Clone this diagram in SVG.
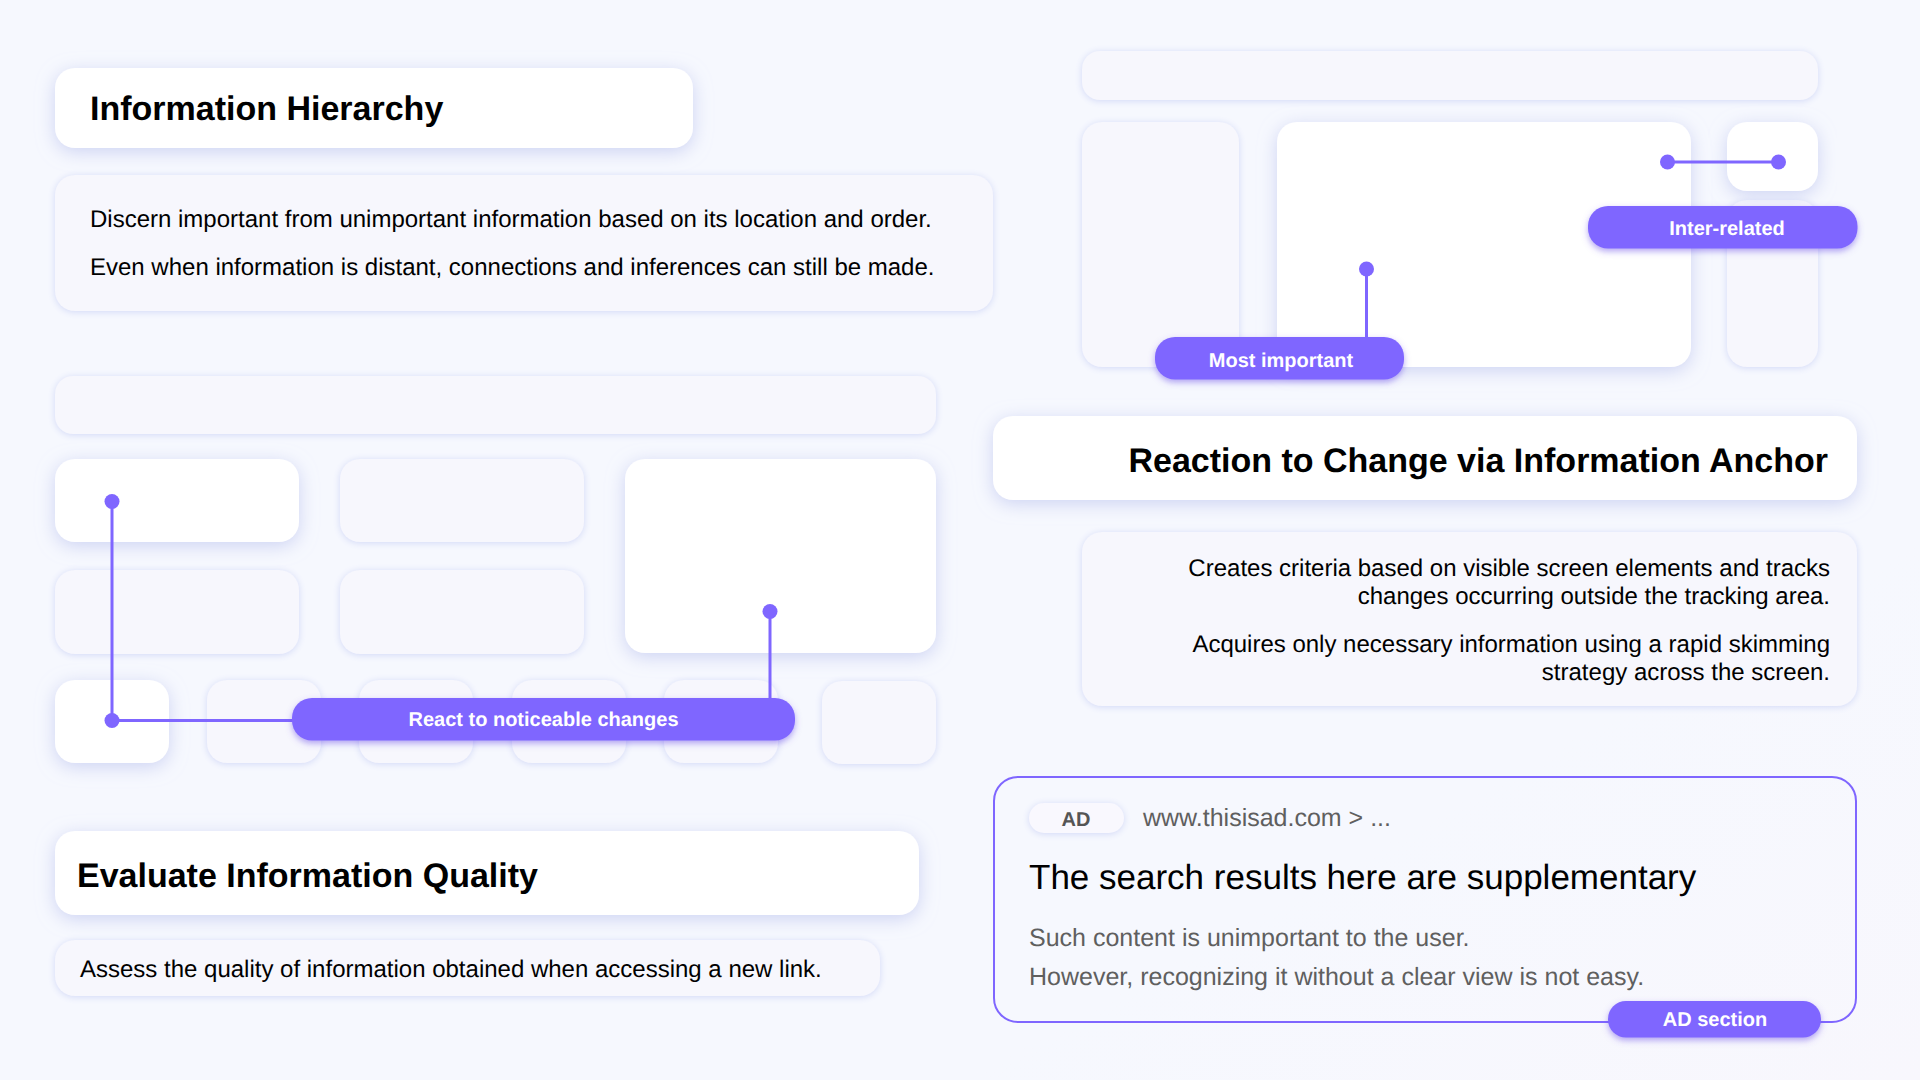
<svg xmlns="http://www.w3.org/2000/svg" width="1920" height="1080" viewBox="0 0 1920 1080">
<style>
text{font-family:"Liberation Sans",Arial,sans-serif;text-rendering:geometricPrecision}
.w{fill:#fff;filter:url(#sw)}
.p{fill:#F7F7FD;filter:url(#sp)}
.t{font-weight:700;font-size:34px;fill:#000}
.b{font-size:24px;fill:#000}
.g{font-size:25px;fill:#5f5f5f}
.l{font-weight:700;font-size:20px;fill:#fff;text-anchor:middle}
.e{text-anchor:end}
.pill{fill:#7F66FF;filter:url(#spill)}
.c{fill:none;stroke:#7F66FF;stroke-width:3}
.d{fill:#7F66FF}
</style>
<defs>
<linearGradient id="bg" x1="0" y1="0" x2="1" y2="1"><stop offset="0.75" stop-color="#F6F8FE"/><stop offset="1" stop-color="#F8F7FD"/></linearGradient>
<filter id="sw" x="-20%" y="-40%" width="140%" height="200%"><feDropShadow dx="0" dy="4" stdDeviation="9" flood-color="#BCC3EE" flood-opacity=".7"/></filter>
<filter id="sp" x="-10%" y="-30%" width="120%" height="160%"><feDropShadow dx="0" dy="1" stdDeviation="3.500" flood-color="#CBD2F5" flood-opacity=".85"/></filter>
<filter id="spill" x="-10%" y="-30%" width="120%" height="170%"><feDropShadow dx="0" dy="3" stdDeviation="3" flood-color="#6A50E8" flood-opacity=".5"/></filter>
</defs>
<rect id="background" width="1920" height="1080" fill="url(#bg)"/>

<g id="title-hierarchy"><rect class="w" x="55" y="68" width="638" height="80" rx="20"/><text class="t" x="90" y="120">Information Hierarchy</text></g>
<g id="desc-hierarchy"><rect class="p" x="55" y="175" width="938" height="136" rx="20"/><text class="b" x="90" y="227">Discern important from unimportant information based on its location and order.</text><text class="b" x="90" y="275">Even when information is distant, connections and inferences can still be made.</text></g>

<g id="left-layout">
<rect id="l-bar" class="p" x="55" y="376" width="881" height="58" rx="18"/>
<rect id="l-a1" class="w" x="55" y="459" width="244" height="83" rx="20"/>
<rect id="l-a2" class="p" x="340" y="459" width="244" height="83" rx="20"/>
<rect id="l-big" class="w" x="625" y="459" width="311" height="194" rx="20"/>
<rect id="l-b1" class="p" x="55" y="570" width="244" height="84" rx="20"/>
<rect id="l-b2" class="p" x="340" y="570" width="244" height="84" rx="20"/>
<rect id="l-c1" class="w" x="55" y="680" width="114" height="83" rx="20"/>
<rect id="l-c2" class="p" x="207" y="680" width="114" height="83" rx="20"/>
<rect id="l-c3" class="p" x="359" y="680" width="114" height="83" rx="20"/>
<rect id="l-c4" class="p" x="512" y="680" width="114" height="83" rx="20"/>
<rect id="l-c5" class="p" x="664" y="680" width="114" height="83" rx="20"/>
<rect id="l-c6" class="p" x="822" y="681" width="114" height="83" rx="20"/>
</g>

<g id="right-layout">
<rect id="r-bar" class="p" x="1082" y="51" width="736" height="49" rx="18"/>
<rect id="r-left" class="p" x="1082" y="122" width="157" height="245" rx="20"/>
<rect id="r-main" class="w" x="1277" y="122" width="414" height="245" rx="20"/>
<rect id="r-low" class="p" x="1727" y="200" width="91" height="167" rx="20"/>
<rect id="r-small" class="w" x="1727" y="122" width="91" height="69" rx="20"/>
</g>

<g id="connectors">
<path class="c" d="M112 501V720.500H293"/>
<path class="c" d="M770 611V698"/>
<path class="c" d="M1667 162H1779"/>
<path class="c" d="M1366.500 269V337"/>
<circle class="d" cx="112" cy="501.500" r="7.500"/><circle class="d" cx="112" cy="720.500" r="7.500"/><circle class="d" cx="770" cy="611.500" r="7.500"/>
<circle class="d" cx="1667.500" cy="162" r="7.500"/><circle class="d" cx="1778.500" cy="162" r="7.500"/><circle class="d" cx="1366.500" cy="269" r="7.500"/>
</g>

<g id="pill-react"><rect class="pill" x="292" y="698" width="503" height="42.500" rx="20"/><text class="l" x="543.500" y="726">React to noticeable changes</text></g>
<g id="pill-inter"><rect class="pill" x="1588" y="206" width="269.500" height="42.500" rx="20"/><text class="l" x="1727" y="235">Inter-related</text></g>
<g id="pill-most"><rect class="pill" x="1155" y="337" width="249" height="42.500" rx="20"/><text class="l" x="1281" y="367">Most important</text></g>

<g id="title-reaction"><rect class="w" x="993" y="416" width="864" height="84" rx="20"/><text class="t e" x="1828" y="472">Reaction to Change via Information Anchor</text></g>
<g id="desc-reaction"><rect class="p" x="1082" y="532" width="775" height="174" rx="20"/>
<text class="b e" x="1830" y="576">Creates criteria based on visible screen elements and tracks</text>
<text class="b e" x="1830" y="604">changes occurring outside the tracking area.</text>
<text class="b e" x="1830" y="652">Acquires only necessary information using a rapid skimming</text>
<text class="b e" x="1830" y="680">strategy across the screen.</text></g>

<g id="title-quality"><rect class="w" x="55" y="831" width="864" height="84" rx="20"/><text class="t" x="77" y="887">Evaluate Information Quality</text></g>
<g id="desc-quality"><rect class="p" x="55" y="940" width="825" height="56" rx="20"/><text class="b" x="80" y="977">Assess the quality of information obtained when accessing a new link.</text></g>

<g id="ad-section">
<rect x="994" y="777" width="862" height="245" rx="24" fill="none" stroke="#7F66FF" stroke-width="2"/>
<g id="ad-tag"><rect x="1029" y="803" width="95" height="30" rx="15" fill="#F9F8FE" filter="url(#sp)"/><text x="1076" y="826" font-size="20" font-weight="700" fill="#555" text-anchor="middle">AD</text></g>
<text class="g" x="1143" y="826">www.thisisad.com &gt; ...</text>
<text x="1029" y="889" font-size="35" fill="#000">The search results here are supplementary</text>
<text class="g" x="1029" y="946">Such content is unimportant to the user.</text>
<text class="g" x="1029" y="985">However, recognizing it without a clear view is not easy.</text>
<g id="pill-ad"><rect class="pill" x="1608" y="1001" width="213" height="36.500" rx="18"/><text class="l" x="1715" y="1026">AD section</text></g>
</g>
</svg>
